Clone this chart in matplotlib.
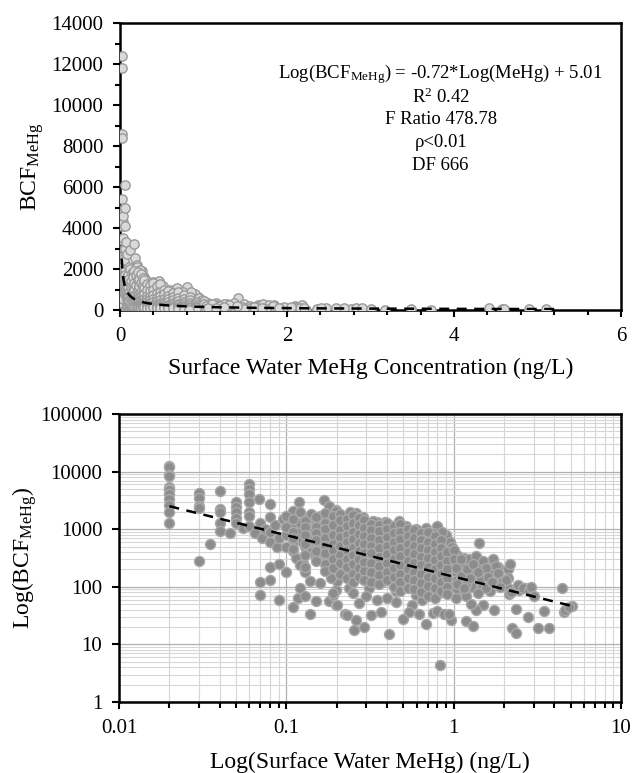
import matplotlib
matplotlib.use("Agg")
import matplotlib.pyplot as plt
import numpy as np
from matplotlib.ticker import MultipleLocator, LogLocator, NullFormatter

plt.rcParams['font.family'] = ['Liberation Serif', 'DejaVu Serif']
plt.rcParams['mathtext.fontset'] = 'custom'
plt.rcParams['mathtext.rm'] = 'Liberation Serif'
plt.rcParams['mathtext.it'] = 'Liberation Serif:italic'

# surface water MeHg (ng/L) and BCF
# sparse left part, x <= 0.1
mehg_low = [
    0.02, 0.02, 0.02, 0.02, 0.02, 0.02, 0.02, 0.02, 0.02, 0.02, 0.02, 0.02,
    0.03, 0.03, 0.03, 0.03, 0.03, 0.035,
    0.04, 0.04, 0.04, 0.04, 0.04, 0.046,
    0.05, 0.05, 0.05, 0.05, 0.05, 0.055,
    0.06, 0.06, 0.06, 0.06, 0.06, 0.06, 0.06,
    0.065, 0.069, 0.07, 0.07, 0.07, 0.072, 0.075,
    0.08, 0.08, 0.08, 0.08, 0.08, 0.08,
    0.085, 0.088, 0.09, 0.09, 0.09, 0.095, 0.1,
]
bcf_low = [
    12400, 11800, 8600, 8400, 5400, 4900, 4700, 4100, 3400, 2600, 1960, 1260,
    4300, 3500, 2500, 2300, 280, 560,
    4600, 2200, 1950, 1300, 930, 870,
    3000, 2400, 1950, 1550, 1300, 1050,
    6100, 5000, 4100, 3000, 2000, 1700, 1150,
    850, 3300, 1300, 120, 72, 700, 1000,
    2750, 220, 130, 600, 1600, 900,
    1200, 500, 250, 59, 700, 1500, 178,
]

# 0.1 - 1 ng/L, edges and outliers of the cloud
mehg_mid = [
    0.11, 0.119, 0.105, 0.13, 0.147, 0.165, 0.169, 0.18, 0.198, 0.115,
    0.126, 0.138, 0.15, 0.165, 0.11, 0.115, 0.126, 0.18, 0.198, 0.22,
    0.21, 0.23, 0.158, 0.173, 0.188, 0.137, 0.123, 0.107, 0.102, 0.18,
    0.198, 0.11, 0.117, 0.12, 0.13, 0.138, 0.129, 0.138, 0.15, 0.158,
    0.18, 0.198, 0.198, 0.19, 0.225,
    0.1, 0.12, 0.14, 0.16, 0.11, 0.12, 0.13, 0.14, 0.15, 0.12,
    0.13, 0.17, 0.16, 0.17, 0.19, 0.2, 0.2, 0.21, 0.22, 0.23,
    0.24, 0.11, 0.1, 0.1, 0.14, 0.15, 0.17, 0.19, 0.2, 0.21,
    0.1, 0.12, 0.135, 0.145, 0.155, 0.175, 0.185, 0.215, 0.225, 0.235,
    0.198, 0.26, 0.28, 0.35, 0.39, 0.47, 0.8, 0.24,
    0.207, 0.238, 0.273, 0.313, 0.36, 0.413, 0.473, 0.543, 0.623, 0.716,
    0.821, 0.92, 0.198, 0.227, 0.261, 0.299, 0.343, 0.394, 0.452, 0.519,
    0.596, 0.684, 0.784, 0.9, 0.203, 0.232, 0.267, 0.306, 0.351, 0.403,
    0.462, 0.531, 0.609, 0.699, 0.802, 0.92, 0.217, 0.249, 0.286, 0.328,
    0.377, 0.432, 0.496, 0.569, 0.653, 0.749, 0.86, 0.238, 0.313, 0.452,
    0.596, 0.716, 0.821,
    0.286, 0.328, 0.377, 0.432, 0.519, 0.596, 0.684, 0.749, 0.86, 0.94,
    0.9, 0.95, 0.85, 0.98, 0.88, 0.92, 0.97, 0.86,
    0.3, 0.35, 0.4, 0.45, 0.65, 0.75, 0.8, 0.85,
    0.68, 0.62, 0.56, 0.54, 0.5, 0.41, 0.37, 0.32, 0.29, 0.255,
    0.26, 0.23, 0.27, 0.25, 0.2, 0.19, 0.2, 0.185, 0.88, 0.96, 0.94,
]
bcf_mid = [
    2100, 2930, 1400, 1600, 1560, 1400, 3230, 2560, 2190, 1070,
    817, 624, 477, 364, 416, 318, 260, 624, 416, 279,
    817, 1220, 935, 1070, 1400, 1220, 624, 764, 935, 279,
    228, 45, 63, 95, 178, 124, 69, 34, 57, 116,
    57, 48, 89, 72, 34,
    1700, 2000, 1800, 1700, 1200, 900, 500, 400, 300, 240,
    220, 250, 600, 800, 900, 1100, 1500, 600, 400, 200,
    1700, 600, 800, 500, 1000, 1300, 450, 330, 250, 160,
    1100, 1300, 750, 650, 800, 600, 500, 1300, 900, 600,
    2100, 1880, 1600, 1310, 1360, 1400, 1140, 1960,
    1070, 1220, 1000, 935, 875, 1070, 935, 714, 875, 714,
    624, 477, 624, 546, 624, 546, 477, 624, 510, 417,
    477, 364, 318, 364, 318, 340, 278, 318, 243, 278,
    212, 278, 227, 186, 212, 174, 186, 162, 174, 142,
    124, 142, 124, 108, 124, 95, 108, 95, 95, 83,
    72, 68, 77,
    1600, 1400, 1220, 1150, 1150, 1000, 1070, 875, 760, 624,
    800, 600, 900, 500, 250, 150, 100, 130,
    70, 60, 65, 55, 60, 35, 38, 100,
    23, 34, 48, 36, 28, 15, 37, 32, 20, 18,
    26, 33, 52, 77, 48, 77, 124, 142, 34, 26.6, 34,
]

# dense core of the cloud, read column by column
mehg_core = (
    [0.11] * 4 + [0.13] * 5 + [0.15] * 6 + [0.17] * 7 + [0.19] * 7
    + [0.21] * 8 + [0.23] * 8 + [0.25] * 9 + [0.27] * 8 + [0.29] * 8
    + [0.32] * 8 + [0.36] * 8 + [0.40] * 8 + [0.44] * 8 + [0.48] * 9
    + [0.53] * 8 + [0.58] * 8 + [0.64] * 8 + [0.70] * 8 + [0.77] * 8
    + [0.84] * 7 + [0.91] * 6 + [1.05] * 5 + [1.15] * 5 + [1.28] * 4
    + [1.45] * 4 + [1.65] * 4 + [1.85] * 3 + [2.1] * 3
)
bcf_core = [
    1500, 900, 700, 450,
    1400, 1100, 800, 550, 350,
    1600, 1100, 850, 650, 420, 280,
    1900, 1300, 1000, 700, 520, 380, 190,
    1700, 1200, 780, 560, 430, 300, 210,
    1850, 1450, 950, 720, 520, 350, 260, 170,
    1500, 1150, 800, 600, 430, 300, 220, 140,
    1750, 1300, 900, 680, 480, 350, 250, 170, 120,
    1550, 1200, 820, 580, 420, 300, 210, 150,
    1450, 1050, 770, 560, 390, 270, 190, 130,
    1250, 980, 700, 520, 380, 260, 180, 120,
    1200, 920, 650, 470, 330, 230, 160, 110,
    1300, 1000, 720, 520, 370, 260, 180, 130,
    1150, 850, 600, 430, 300, 210, 150, 100,
    1250, 900, 680, 480, 340, 240, 170, 120, 85,
    1000, 760, 560, 400, 280, 200, 140, 95,
    950, 700, 520, 370, 260, 180, 130, 90,
    850, 640, 470, 330, 240, 165, 115, 80,
    900, 600, 430, 310, 220, 150, 105, 70,
    750, 550, 400, 290, 200, 140, 95, 65,
    650, 470, 340, 240, 170, 120, 85,
    400, 280, 200, 140, 100, 75,
    350, 250, 170, 130, 90,
    320, 230, 160, 120, 80,
    280, 200, 140, 100,
    260, 170, 120, 90,
    250, 180, 130, 85,
    220, 150, 110,
    200, 140, 95,
]

# x > 1 ng/L
mehg_high = [
    1.41, 2.18, 4.42, 5.1, 4.58, 3.48, 3.17, 3.73, 2.77, 2.23,
    2.36, 2.36, 2.68, 2.47, 2.15, 0.83,
    1.0, 1.0, 1.03, 1.1, 1.18, 1.24, 1.36, 1.49, 1.56, 1.71,
    1.79, 1.83, 1.96, 2.05, 2.41, 2.59, 2.83, 1.46, 1.56, 1.39,
    1.49, 1.36, 1.75, 1.18, 1.3, 1.18, 1.27, 1.03,
    1.1, 1.2, 1.3, 1.4, 1.6, 1.7, 1.9, 2.2, 1.05, 1.15,
    1.25, 2.9, 3.0, 4.6, 4.9,
]
bcf_high = [
    583, 250, 97, 47, 37, 38, 19.5, 19.5, 30, 19,
    16, 42, 95, 89, 74, 4.4,
    428, 298, 212, 152, 108, 298, 340, 279, 212, 298,
    228, 174, 124, 133, 108, 95, 89, 142, 95, 77,
    48, 40, 40, 25, 21, 68, 50, 63,
    300, 200, 250, 180, 150, 120, 100, 80, 110, 95,
    140, 100, 70, 40, 45,
]

mehg = mehg_low + mehg_mid + mehg_core + mehg_high
bcf = bcf_low + bcf_mid + bcf_core + bcf_high

# fitted relation: ln(BCF) = -0.72 ln(MeHg) + 5.01
slope = -0.72
intercept = 5.01
fit_x = np.linspace(0.02, 5.2, 400)
fit_y = np.exp(intercept + slope * np.log(fit_x))

fig = plt.figure(figsize=(6.33, 7.73), dpi=100)

# ---- top panel: linear axes ----
ax1 = fig.add_axes([120/633, 1 - 310/773, 501/633, 287/773])
ax1.scatter(mehg, bcf, s=45, color="#d9d9d9", edgecolors="#9a9a9a",
            linewidths=1.0, zorder=3)
ax1.plot(fit_x, fit_y, color="black", linestyle=(0, (4, 3)), linewidth=1.8, zorder=4)
ax1.set_xlim(0, 6)
ax1.set_ylim(0, 14000)
ax1.xaxis.set_major_locator(MultipleLocator(2))
ax1.xaxis.set_minor_locator(MultipleLocator(0.4))
ax1.yaxis.set_major_locator(MultipleLocator(2000))
ax1.yaxis.set_minor_locator(MultipleLocator(1000))
ax1.tick_params(which="major", direction="out", length=5, width=1.5, labelsize=15, pad=7)
ax1.tick_params(which="minor", direction="out", length=3.5, width=1.5)
for sp in ax1.spines.values():
    sp.set_linewidth(1.8)
ax1.set_xlabel("Surface Water MeHg Concentration (ng/L)", fontsize=17, labelpad=9)
ax1.set_ylabel("BCF$_{\\mathrm{MeHg}}$", fontsize=17, labelpad=4)

ax1.text(0.64, 0.822, "Log(BCF$_{\\mathrm{MeHg}}$) = -0.72*Log(MeHg) + 5.01",
         transform=ax1.transAxes, ha="center", va="center", fontsize=13.5)
stats = ["R$^{2}$ 0.42", "F Ratio 478.78", "ρ<0.01", "DF 666"]
for i, s in enumerate(stats):
    ax1.text(0.64, 0.742 - i * 0.079, s, transform=ax1.transAxes,
             ha="center", va="center", fontsize=13.5)

# ---- bottom panel: log-log axes ----
ax2 = fig.add_axes([119/633, 1 - 702/773, 502/633, 288/773])
ax2.set_xscale("log")
ax2.set_yscale("log")
ax2.scatter(mehg, bcf, s=52, color="#8c8c8c", edgecolors="#a9a9a9",
            linewidths=1.0, zorder=3)
ax2.plot(fit_x, fit_y, color="black", linestyle=(0, (4, 3)), linewidth=1.8, zorder=4)
ax2.set_xlim(0.01, 10)
ax2.set_ylim(1, 100000)
ax2.xaxis.set_minor_locator(LogLocator(base=10, subs=np.arange(2, 10), numticks=20))
ax2.yaxis.set_minor_locator(LogLocator(base=10, subs=np.arange(2, 10), numticks=20))
ax2.xaxis.set_minor_formatter(NullFormatter())
ax2.yaxis.set_minor_formatter(NullFormatter())
ax2.set_xticks([0.01, 0.1, 1, 10])
ax2.set_xticklabels(["0.01", "0.1", "1", "10"])
ax2.set_yticks([1, 10, 100, 1000, 10000, 100000])
ax2.set_yticklabels(["1", "10", "100", "1000", "10000", "100000"])
ax2.grid(which="major", color="#b0b0b0", linewidth=0.9, zorder=0)
ax2.grid(which="minor", color="#d6d6d6", linewidth=0.8, zorder=0)
ax2.set_axisbelow(True)
ax2.tick_params(which="major", direction="out", length=5, width=1.5, labelsize=15, pad=7)
ax2.tick_params(axis="x", which="minor", direction="out", length=4, width=1.5)
ax2.tick_params(axis="y", which="minor", length=0)
for sp in ax2.spines.values():
    sp.set_linewidth(1.8)
ax2.set_xlabel("Log(Surface Water MeHg) (ng/L)", fontsize=17, labelpad=10)
ax2.set_ylabel("Log(BCF$_{\\mathrm{MeHg}}$)", fontsize=17, labelpad=1)

fig.savefig("out.png", dpi=100)
